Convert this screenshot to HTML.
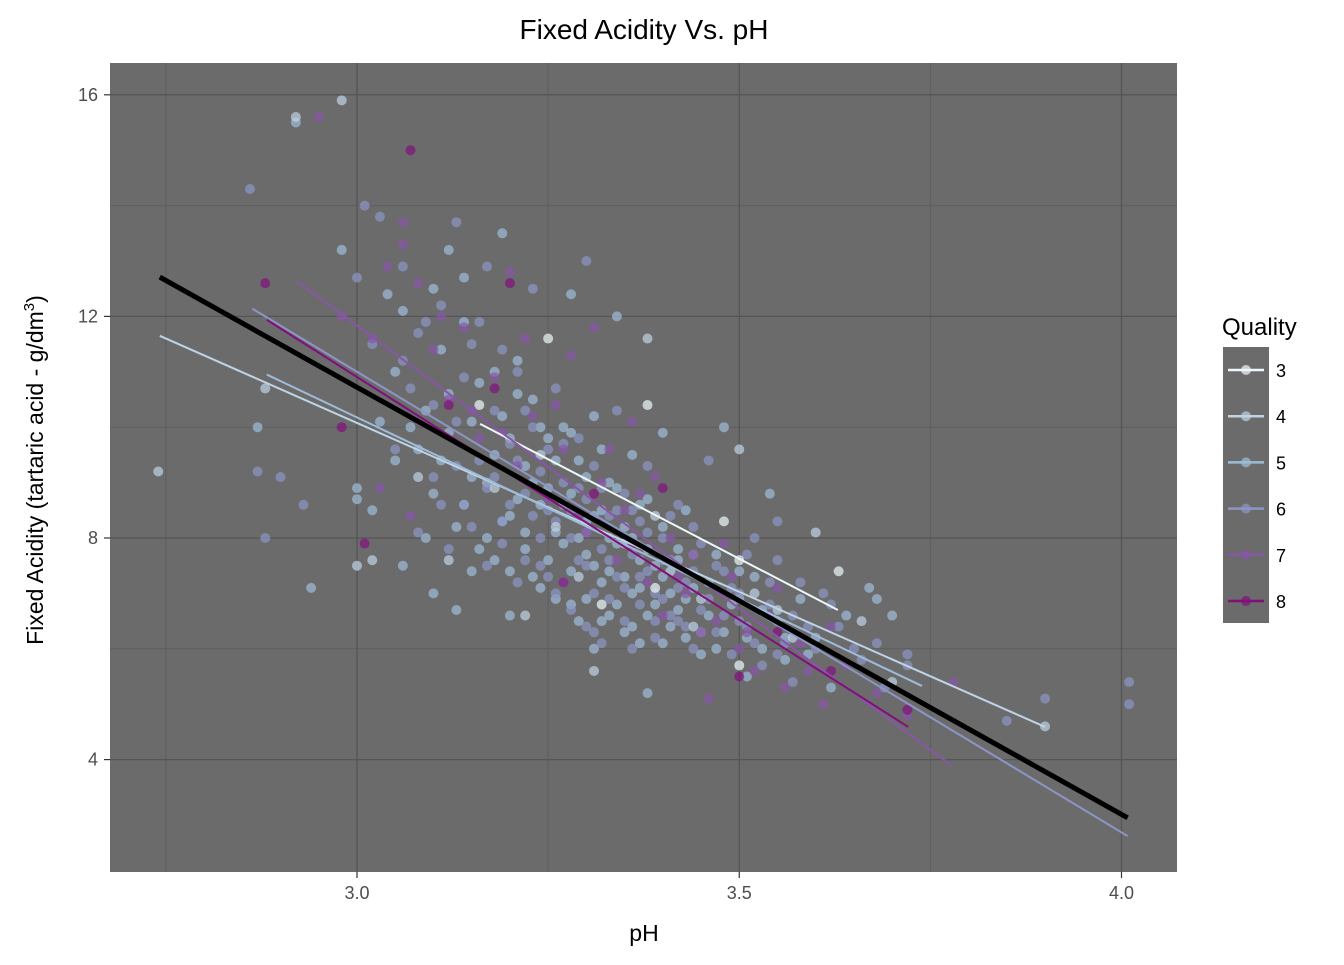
<!DOCTYPE html>
<html><head><meta charset="utf-8">
<style>
body{margin:0;background:#fff;font-family:"Liberation Sans",Arial,sans-serif;}
svg text{font-family:"Liberation Sans",Arial,sans-serif;}
</style></head>
<body>
<svg id="chart" width="1344" height="960" viewBox="0 0 1344 960" xmlns="http://www.w3.org/2000/svg">
<text x="644" y="39" text-anchor="middle" font-size="28" fill="#000">Fixed Acidity Vs. pH</text>
<rect x="110" y="63" width="1067" height="809" fill="#6b6b6b"/>
<g id="grid"></g>
<g id="points"></g>
<g id="lines"></g>
<g id="axes"></g>
<text x="644" y="941" text-anchor="middle" font-size="23" fill="#000">pH</text>
<text transform="translate(43,470) rotate(-90)" text-anchor="middle" font-size="23" fill="#000">Fixed Acidity (tartaric acid - g/dm<tspan font-size="15" dy="-9">3</tspan><tspan dy="9">)</tspan></text>
<g id="legend">
<text x="1222" y="335" font-size="24" fill="#000">Quality</text>
<rect x="1223" y="347" width="46" height="276" fill="#6b6b6b"/>
</g>
</svg>
<script>
const xTicks=[3.0,3.5,4.0];
const xTickLabels=["3.0","3.5","4.0"];
const yTicks=[4,8,12,16];
const yTickLabels=["4","8","12","16"];
const qualities=["3","4","5","6","7","8"];
const colors=["#edf8fb","#bfd3e6","#9ebcda","#8c96c6","#8856a7","#810f7c"];
const fitQ3=[3.161,10.06,3.629,6.70];
const fitQ4=[2.742,11.65,3.90,4.59];
const fitQ5=[2.882,10.95,3.739,5.33];
const fitQ6=[2.863,12.14,4.008,2.62];
const fitQ7=[2.921,12.64,3.778,3.89];
const fitQ8=[2.882,11.94,3.721,4.59];
const fitAll=[2.742,12.71,4.008,2.95];
const ptsQ3=[[3.25,11.6],[3.38,10.4],[3.48,8.3],[3.50,7.6],[3.63,7.4],[3.39,7.1],[3.32,6.8],[3.16,10.4],[3.50,5.7]];
const ptsQ4=[[2.74,9.2],[2.92,15.6],[2.98,15.9],[3.38,11.6],[2.88,10.7],[3.0,7.5],[3.22,6.6],[3.60,8.1],[3.90,4.6],[3.5,9.6],[3.31,5.6],[3.45,6.9],[3.57,6.2],[3.12,7.6],[3.26,8.2],[3.41,7.4],[3.66,6.5],[3.02,7.6],[3.70,5.4],[3.18,8.9],[3.24,9.5],[3.35,7.9],[3.44,6.4],[3.52,7.0],[3.08,9.1],[3.29,7.3],[3.39,8.4],[3.55,6.7]];
const ptsQ5=[[2.92,15.5],[2.94,7.1],[2.87,10.0],[2.98,13.2],[3.0,8.9],[3.0,8.7],[3.02,8.5],[3.04,12.4],[3.05,11.0],[3.06,7.5],[3.08,9.6],[3.09,10.3],[3.10,7.0],[3.10,8.8],[3.11,11.4],[3.12,9.9],[3.13,6.7],[3.13,8.2],[3.14,12.7],[3.15,7.4],[3.15,9.1],[3.16,10.8],[3.17,8.0],[3.18,7.6],[3.18,9.5],[3.19,13.5],[3.20,6.6],[3.20,8.4],[3.21,11.2],[3.22,7.8],[3.22,9.3],[3.23,10.5],[3.24,7.1],[3.24,8.6],[3.25,9.8],[3.26,6.9],[3.26,8.1],[3.27,10.0],[3.28,7.4],[3.28,8.8],[3.29,6.5],[3.29,9.4],[3.30,7.7],[3.30,8.3],[3.31,6.0],[3.31,10.2],[3.32,7.2],[3.32,8.5],[3.33,6.6],[3.33,9.0],[3.34,7.9],[3.35,6.3],[3.35,8.2],[3.36,7.0],[3.36,9.5],[3.37,6.1],[3.37,7.6],[3.38,8.7],[3.38,5.2],[3.39,6.8],[3.40,7.3],[3.40,9.9],[3.41,6.4],[3.42,7.8],[3.43,6.2],[3.43,8.5],[3.44,7.1],[3.45,5.9],[3.46,6.6],[3.47,7.7],[3.48,6.3],[3.48,10.0],[3.50,6.9],[3.51,5.5],[3.52,7.3],[3.53,6.0],[3.54,8.8],[3.55,6.5],[3.56,5.8],[3.58,6.9],[3.60,6.2],[3.62,5.3],[3.64,6.6],[3.67,7.1],[3.68,6.9],[3.70,6.6],[3.28,12.4],[3.34,12.0],[3.12,13.2],[3.06,12.1],
[3.07,10.0],[3.09,8.0],[3.11,9.4],[3.12,10.6],[3.14,8.6],[3.15,10.1],[3.16,7.8],[3.17,9.0],[3.18,11.0],[3.19,8.3],[3.19,10.2],[3.20,7.4],[3.20,9.8],[3.21,8.7],[3.21,10.6],[3.22,8.1],[3.23,7.3],[3.23,9.0],[3.24,10.0],[3.25,7.6],[3.25,8.9],[3.26,9.4],[3.27,7.9],[3.27,8.6],[3.28,6.8],[3.28,9.9],[3.29,8.0],[3.30,6.9],[3.30,9.1],[3.31,7.5],[3.31,8.4],[3.32,6.5],[3.32,9.6],[3.33,7.4],[3.33,8.0],[3.34,6.8],[3.34,8.9],[3.35,7.3],[3.36,6.4],[3.36,8.0],[3.37,7.1],[3.37,8.6],[3.38,6.6],[3.38,7.8],[3.39,7.5],[3.40,6.1],[3.40,8.2],[3.41,7.0],[3.42,6.7],[3.42,7.6],[3.43,6.9],[3.44,7.7],[3.45,6.3],[3.46,7.2],[3.47,6.0],[3.49,6.8],[3.50,7.4],[3.51,6.2],[3.53,6.7],[3.56,6.2],[3.59,5.9],[3.14,11.9],[3.10,12.5],[3.05,9.4],[3.03,10.1]];
const ptsQ6=[[2.86,14.3],[2.87,9.2],[2.88,8.0],[2.90,9.1],[2.93,8.6],[3.0,12.7],[3.01,14.0],[3.02,11.5],[3.03,13.8],[3.05,9.6],[3.06,12.9],[3.07,10.7],[3.08,8.1],[3.09,11.9],[3.10,9.1],[3.11,12.2],[3.12,7.8],[3.13,10.1],[3.14,8.6],[3.15,11.5],[3.16,9.4],[3.17,7.5],[3.17,12.9],[3.18,10.3],[3.19,8.3],[3.20,9.7],[3.21,7.2],[3.21,11.0],[3.22,8.8],[3.23,10.0],[3.24,7.5],[3.24,9.2],[3.25,8.5],[3.26,10.7],[3.26,7.0],[3.27,9.0],[3.28,8.0],[3.28,6.7],[3.29,9.8],[3.30,7.5],[3.30,8.7],[3.31,6.3],[3.31,9.3],[3.32,7.8],[3.33,8.4],[3.33,6.9],[3.34,7.3],[3.34,10.3],[3.35,8.8],[3.35,6.5],[3.36,7.7],[3.37,8.3],[3.37,6.8],[3.38,7.4],[3.38,9.3],[3.39,6.2],[3.40,8.0],[3.40,6.9],[3.41,7.6],[3.42,6.5],[3.42,8.6],[3.43,7.2],[3.44,6.0],[3.45,7.9],[3.45,6.7],[3.46,9.4],[3.47,6.3],[3.48,7.4],[3.49,5.9],[3.50,7.0],[3.51,6.4],[3.52,8.0],[3.53,5.7],[3.54,6.8],[3.55,7.6],[3.56,6.1],[3.57,5.4],[3.58,7.2],[3.60,6.0],[3.61,7.0],[3.63,6.4],[3.66,5.8],[3.69,5.3],[3.72,5.7],[3.85,4.7],[3.90,5.1],[4.01,5.4],[4.01,5.0],[3.30,13.0],[3.23,12.5],[3.55,8.3],[3.13,13.7],
[3.06,11.2],[3.08,11.7],[3.10,10.4],[3.11,8.6],[3.13,9.3],[3.14,10.9],[3.15,8.2],[3.16,11.9],[3.17,8.9],[3.18,9.1],[3.19,7.9],[3.19,11.4],[3.20,8.6],[3.21,9.4],[3.22,7.6],[3.22,10.3],[3.23,8.4],[3.24,8.0],[3.25,7.3],[3.25,9.6],[3.26,8.3],[3.27,7.2],[3.27,9.7],[3.28,8.5],[3.29,7.6],[3.29,8.9],[3.30,6.4],[3.30,8.1],[3.31,7.0],[3.32,8.9],[3.32,6.1],[3.33,7.6],[3.34,8.5],[3.35,7.1],[3.36,8.5],[3.36,6.0],[3.37,7.3],[3.38,8.1],[3.39,7.0],[3.39,6.5],[3.40,7.6],[3.41,6.6],[3.41,8.4],[3.42,7.1],[3.43,6.4],[3.44,7.4],[3.44,8.2],[3.46,6.9],[3.47,7.5],[3.48,6.6],[3.49,7.1],[3.50,6.5],[3.51,7.7],[3.52,6.1],[3.54,7.2],[3.55,5.9],[3.57,6.6],[3.59,6.4],[3.62,6.8],[3.65,6.0],[3.68,6.1],[3.72,5.9]];
const ptsQ7=[[2.95,15.6],[2.98,12.0],[3.02,11.6],[3.04,12.9],[3.06,13.3],[3.06,13.7],[3.08,12.6],[3.10,11.4],[3.12,10.5],[3.14,11.8],[3.16,9.8],[3.18,10.9],[3.20,12.8],[3.21,9.3],[3.23,10.2],[3.25,8.7],[3.27,9.6],[3.28,11.3],[3.30,8.1],[3.31,11.8],[3.32,9.0],[3.34,7.6],[3.35,8.5],[3.36,10.1],[3.38,7.2],[3.39,9.1],[3.40,6.6],[3.41,8.0],[3.43,7.0],[3.44,7.7],[3.46,5.1],[3.47,6.5],[3.49,7.3],[3.50,6.0],[3.52,5.6],[3.54,6.6],[3.56,5.3],[3.58,6.1],[3.61,5.0],[3.64,5.7],[3.68,5.2],[3.72,4.8],[3.78,5.4],[3.07,8.4],[3.03,8.9],[3.22,11.6],[3.26,10.4],[3.29,8.4],[3.33,9.6],[3.37,8.8],[3.42,7.3],[3.45,6.3],[3.48,7.9],[3.51,6.3],[3.55,7.1],[3.59,5.6],[3.62,6.4],[3.19,9.9],[3.15,10.3],[3.11,12.0]];
const ptsQ8=[[2.88,12.6],[2.98,10.0],[3.01,7.9],[3.07,15.0],[3.12,10.4],[3.18,10.7],[3.20,12.6],[3.27,7.2],[3.31,8.8],[3.36,7.9],[3.40,8.9],[3.50,5.5],[3.55,6.3],[3.62,5.6],[3.72,4.9]];
const allPts=[ptsQ3,ptsQ4,ptsQ5,ptsQ6,ptsQ7,ptsQ8];
const fits=[fitQ3,fitQ4,fitQ5,fitQ6,fitQ7,fitQ8];

const NS="http://www.w3.org/2000/svg";
const X=v=>357+(v-3.0)*764.5;
const Y=v=>538-(v-8)*55.4;
function mk(tag,attrs,parent){const e=document.createElementNS(NS,tag);for(const k in attrs)e.setAttribute(k,attrs[k]);parent.appendChild(e);return e;}
const grid=document.getElementById('grid'),axes=document.getElementById('axes');
[2.75,3.25,3.75].forEach(v=>{const l=mk('line',{x1:X(v),x2:X(v),y1:63,y2:872,stroke:'#5e5e5e','stroke-width':1},grid);

});
[6,10,14].forEach(v=>{const l=mk('line',{x1:110,x2:1177,y1:Y(v),y2:Y(v),stroke:'#5e5e5e','stroke-width':1},grid);

});
xTicks.forEach((v,i)=>{const l=mk('line',{x1:X(v),x2:X(v),y1:63,y2:872,stroke:'#555','stroke-width':1.3},grid);


mk('line',{x1:X(v),x2:X(v),y1:872,y2:878,stroke:'#333','stroke-width':1.2},axes);
const t=mk('text',{x:X(v),y:899,'text-anchor':'middle','font-size':18,fill:'#4d4d4d'},axes);t.textContent=xTickLabels[i];

});
yTicks.forEach((v,i)=>{const l=mk('line',{x1:110,x2:1177,y1:Y(v),y2:Y(v),stroke:'#555','stroke-width':1.3},grid);


mk('line',{x1:104,x2:110,y1:Y(v),y2:Y(v),stroke:'#333','stroke-width':1.2},axes);
const t=mk('text',{x:98,y:Y(v)+6,'text-anchor':'end','font-size':18,fill:'#4d4d4d'},axes);t.textContent=yTickLabels[i];

});
const pg=document.getElementById('points');
[2,3,1,0,4,5].forEach(q=>{allPts[q].forEach(p=>{const c=mk('circle',{cx:X(p[0]),cy:Y(p[1]),r:5,fill:colors[q],'fill-opacity':0.7},pg);

});});
const lg=document.getElementById('lines');
fits.forEach((f,q)=>{const l=mk('line',{x1:X(f[0]),y1:Y(f[1]),x2:X(f[2]),y2:Y(f[3]),stroke:colors[q],'stroke-width':2},lg);

});
const la=mk('line',{x1:X(fitAll[0]),y1:Y(fitAll[1]),x2:X(fitAll[2]),y2:Y(fitAll[3]),stroke:'#000','stroke-width':5},lg);


const leg=document.getElementById('legend');
qualities.forEach((q,i)=>{const cy=370+i*46.2;
const g=mk('g',{},leg);


mk('line',{x1:1228,x2:1264,y1:cy,y2:cy,stroke:colors[i],'stroke-width':2.5},g);
mk('circle',{cx:1246,cy:cy,r:5,fill:colors[i],'fill-opacity':0.7},g);
const t=mk('text',{x:1276,y:cy+7,'font-size':18,fill:'#000'},g);t.textContent=q;});
</script>
</body></html>
